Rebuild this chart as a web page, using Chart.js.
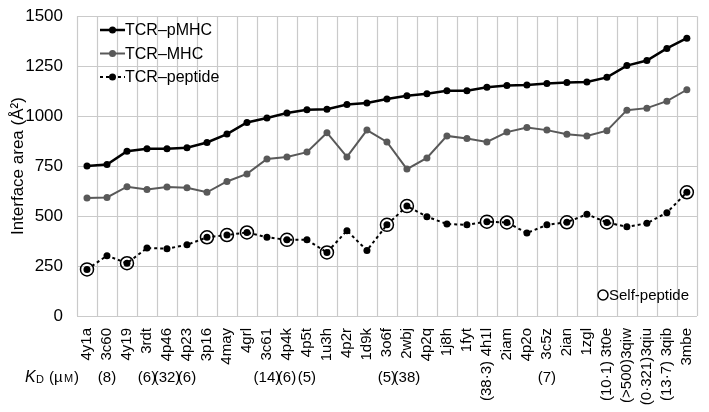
<!DOCTYPE html>
<html lang="en">
  <head>
    <meta charset="UTF-8" />
    <title>TCR interface area</title>
    <script src="https://cdn.jsdelivr.net/npm/chart.js"></script>
    <style>
      body {
        margin: 0;
        background: #fff;
        font-family: "Liberation Sans", Arial, sans-serif;
      }
      #wrap {
        width: 709px;
        height: 412px;
      }
    </style>
  </head>
  <body>
    <div id="wrap"><canvas id="areaChart"></canvas></div>

    <script>
      const structures = [
        "4y1a", "3c60", "4y19", "3rdt", "4p46", "4p23", "3p16", "4may", "4grl", "3c61",
        "4p4k", "4p5t", "1u3h", "4p2r", "1d9k", "3o6f", "2wbj", "4p2q", "1j8h", "1fyt",
        "4h1l", "2iam", "4p2o", "3c5z", "2ian", "1zgl", "3t0e", "3qiw", "3qiu", "3qib", "3mbe",
      ];
      const tcrPmhc = [
        750, 758, 824, 837, 837, 842, 868, 910, 968, 991,
        1016, 1032, 1035, 1058, 1066, 1086, 1102, 1112, 1127, 1127,
        1145, 1153, 1156, 1163, 1168, 1171, 1194, 1253, 1278, 1339, 1390,
      ];
      const tcrMhc = [
        590, 593, 647, 633, 645, 642, 619, 673, 711, 786,
        796, 820, 917, 796, 930, 871, 735, 791, 901, 888,
        871, 920, 943, 930, 909, 901, 927, 1030, 1040, 1075, 1132,
      ];
      const tcrPeptide = [
        233, 302, 264, 340, 337, 356, 394, 405, 418, 394,
        381, 381, 318, 427, 328, 456, 550, 497, 460, 456,
        472, 468, 415, 456, 469, 509, 468, 446, 464, 517, 619,
      ];
      const selfPeptide = [
        "4y1a", "4y19", "3p16", "4may", "4grl", "4p4k", "1u3h",
        "3o6f", "2wbj", "4h1l", "2iam", "2ian", "3t0e", "3mbe",
      ];
      // KD in µM, "" where not measured
      const kdLabels = [
        "", "(8)", "", "(6)", "(32)", "(6)", "", "", "", "(14)",
        "(6)", "(5)", "", "", "", "(5)", "(38)", "", "", "",
        "(38·3)", "", "", "(7)", "", "", "(10·1)", "(>500)", "(0·321)", "(13·7)", "",
      ];
      const yTicks = [0, 250, 500, 750, 1000, 1250, 1500];

      const FONT = "'Liberation Sans', Arial, sans-serif";
      const GRID = "#cacaca";
      const selfData = structures.map((s, i) =>
        selfPeptide.includes(s) ? tcrPeptide[i] : null
      );

      const series = [
        { label: "TCR–pMHC", data: tcrPmhc, color: "#000", width: 2.5, dash: [] },
        { label: "TCR–MHC", data: tcrMhc, color: "#595959", width: 2, dash: [] },
        { label: "TCR–peptide", data: tcrPeptide, color: "#000", width: 2, dash: [3, 3] },
      ];

      // grid drawn from the scales (built-in grid did not show here)
      const gridLines = {
        id: "gridLines",
        beforeDatasetsDraw(chart) {
          const { ctx, chartArea: a, scales } = chart;
          const x = scales.x;
          const y = scales.y;
          ctx.save();
          ctx.strokeStyle = GRID;
          ctx.lineWidth = 1.2;
          ctx.beginPath();
          const half = (x.getPixelForValue(1) - x.getPixelForValue(0)) / 2;
          for (let i = 0; i <= structures.length; i++) {
            const px = Math.round(x.getPixelForValue(i) - half) + 0.5;
            ctx.moveTo(px, a.top);
            ctx.lineTo(px, a.bottom);
          }
          yTicks.forEach((v) => {
            const py = Math.round(y.getPixelForValue(v)) + 0.5;
            ctx.moveTo(a.left, py);
            ctx.lineTo(a.right, py);
          });
          ctx.stroke();
          ctx.restore();
        },
      };

      const extras = {
        id: "extras",
        afterDraw(chart) {
          const ctx = chart.ctx;
          const x = chart.scales.x;
          ctx.save();
          ctx.fillStyle = "#000";
          ctx.textBaseline = "middle";

          // top-left legend
          series.forEach((s, i) => {
            const yy = 30 + i * 23.5;
            ctx.strokeStyle = s.color;
            ctx.lineWidth = s.width;
            ctx.setLineDash(s.dash);
            ctx.beginPath();
            ctx.moveTo(100, yy);
            ctx.lineTo(125, yy);
            ctx.stroke();
            ctx.setLineDash([]);
            ctx.fillStyle = s.color;
            ctx.beginPath();
            ctx.arc(112.5, yy, 3.5, 0, Math.PI * 2);
            ctx.fill();
            ctx.fillStyle = "#000";
            ctx.font = "16px " + FONT;
            ctx.textAlign = "left";
            ctx.fillText(s.label, 125, yy + 1);
          });

          // self-peptide key
          ctx.strokeStyle = "#000";
          ctx.lineWidth = 1.5;
          ctx.beginPath();
          ctx.arc(603, 295, 5, 0, Math.PI * 2);
          ctx.stroke();
          ctx.font = "15px " + FONT;
          ctx.textAlign = "left";
          ctx.fillText("Self-peptide", 609, 296);

          // KD row
          const rowY = 378;
          ctx.font = "italic 16px " + FONT;
          ctx.textAlign = "left";
          ctx.fillText("K", 25, rowY);
          ctx.font = "11px " + FONT;
          ctx.fillText("D", 36, rowY + 2);
          ctx.font = "15px " + FONT;
          ctx.fillText("(µ", 49, rowY);
          ctx.font = "11px " + FONT;
          ctx.fillText("M", 64, rowY + 1);
          ctx.font = "15px " + FONT;
          ctx.fillText(")", 74, rowY);

          kdLabels.forEach((t, i) => {
            if (!t) return;
            const px = x.getPixelForValue(i);
            ctx.font = "15px " + FONT;
            if (t.length > 4) {
              ctx.save();
              ctx.translate(px, 381);
              ctx.rotate(-Math.PI / 2);
              ctx.textAlign = "center";
              ctx.fillText(t, 0, 0);
              ctx.restore();
            } else {
              ctx.textAlign = "center";
              ctx.fillText(t, px, rowY);
            }
          });
          ctx.restore();
        },
      };

      new Chart(document.getElementById("areaChart"), {
        type: "line",
        data: {
          labels: structures,
          datasets: [
            ...series.map((s) => ({
              label: s.label,
              data: s.data,
              borderColor: s.color,
              backgroundColor: s.color,
              borderWidth: s.width,
              borderDash: s.dash,
              pointRadius: 3.5,
              pointBorderWidth: 0,
              tension: 0,
            })),
            {
              label: "Self-peptide",
              data: selfData,
              showLine: false,
              borderColor: "#000",
              backgroundColor: "rgba(0,0,0,0)",
              pointRadius: 6.5,
              pointBorderWidth: 1.5,
            },
          ],
        },
        options: {
          responsive: true,
          maintainAspectRatio: false,
          animation: false,
          layout: { padding: { top: 12, right: 2, left: 0, bottom: 0 } },
          plugins: { legend: { display: false }, tooltip: { enabled: false } },
          scales: {
            x: {
              offset: true,
              afterFit: (s) => { s.height = 96; },
              grid: { display: false },
              ticks: {
                autoSkip: false,
                minRotation: 90,
                maxRotation: 90,
                padding: 4,
                color: "#000",
                font: { family: FONT, size: 15 },
              },
            },
            y: {
              min: 0,
              max: 1500,
              afterFit: (s) => { s.width = 77; },
              afterBuildTicks: (s) => { s.ticks = yTicks.map((v) => ({ value: v })); },
              grid: { display: false },
              title: {
                display: true,
                text: "Interface area (Å²)",
                color: "#000",
                font: { family: FONT, size: 17 },
                padding: { top: 8, bottom: 4 },
              },
              ticks: {
                padding: 6,
                color: "#000",
                font: { family: FONT, size: 17 },
                callback: (v) => String(v),
              },
            },
          },
        },
        plugins: [gridLines, extras],
      });
    </script>
  </body>
</html>
